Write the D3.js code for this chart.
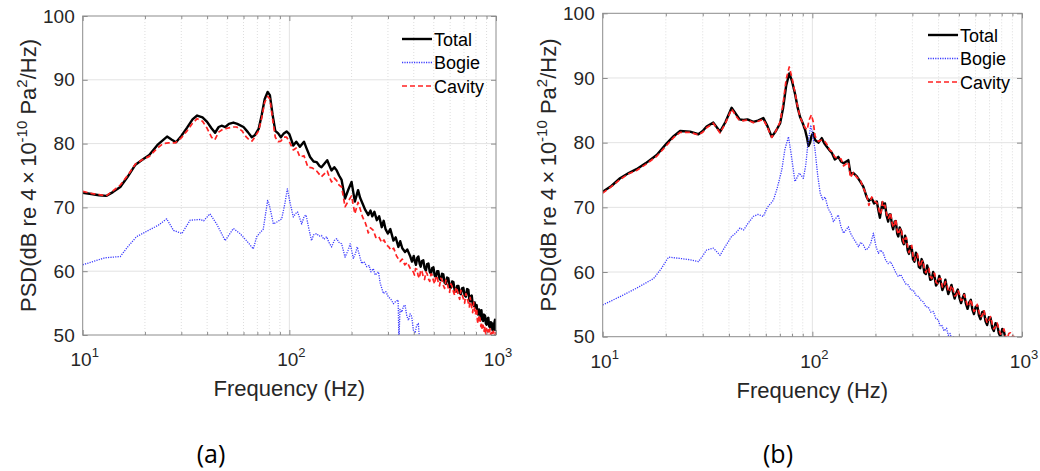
<!DOCTYPE html>
<html lang="en">
<head>
<meta charset="UTF-8">
<title>PSD spectra</title>
<style>
    body { margin: 0; background: #fff; }
    svg { display: block; font-family: "Liberation Sans", Arial, sans-serif; }
    .frame { fill: none; stroke: #8c8c8c; stroke-width: 1; }
</style>
</head>
<body>
<svg id="chart" width="1040" height="471"></svg>
<script src="https://d3js.org/d3.v7.min.js"></script>
<script>
// ---- data: [frequency (Hz), PSD (dB)] ----
const totalA = [[10,72.3],[11,72.1],[12,71.9],[13,71.8],[14,72.4],[15.2,73.2],[16.5,74.8],[18,76.7],[19.5,77.5],[21,78.2],[23,79.8],[25.6,81.1],[27,80.6],[28.3,80.2],[30,81.2],[32,82.5],[34,83.8],[35.8,84.4],[38,84.1],[40,83.4],[42,82.4],[43.7,81.7],[45.5,82.6],[47,82.8],[49,82.6],[51,83.1],[53.6,83.3],[56,83.1],[60,82.6],[63,81.8],[65.8,81.0],[68,81.3],[71,82.3],[73.5,84.5],[76,87.0],[78.5,88.1],[80.5,87.6],[83,84.5],[85.5,82.0],[88.3,81.6],[91,81.0],[94,81.6],[97,81.9],[100,81.5],[104.5,79.7],[108,80.3],[112.5,79.5],[117.7,80.3],[121,79.3],[126,77.9],[131,77.2],[135.5,77.1],[140,76.5],[143,76.3],[152.5,77.4],[156,76.6],[160,75.8],[165,76.3],[169.5,75.8],[174,75.0],[179,74.3],[186,71.4],[193,72.8],[200,74.0],[207.5,70.9],[215,72.7],[220,71.5],[226,70.6],[233,69.6],[241,68.8],[247,69.5],[252,68.6],[258,69.3],[265,68.0],[272,68.6],[280,66.9],[286,67.9],[292,66.6],[300,65.9],[308,66.6],[319,64.8],[327,65.3],[337,63.8],[344,64.7],[352,63.6],[363,63.0],[372,63.4],[384,62.4],[392,61.5],[400,62.4],[405,61.5],[410,61.0],[416,62.1],[421,62.3],[427,61.2],[432,60.7],[438,61.6],[445,61.7],[451,60.5],[458,60.1],[464,61.1],[471,61.2],[478,59.9],[485,59.6],[491,60.5],[498,60.6],[505,59.3],[512,59.1],[519,60.0],[526,60.0],[533,58.8],[541,58.6],[548,59.6],[556,59.5],[564,58.2],[572,58.0],[580,59.0],[588,58.9],[596,57.6],[605,57.4],[613,58.4],[622,58.3],[631,57.0],[640,56.8],[649,57.7],[658,57.7],[667,56.6],[676,56.4],[685,57.3],[695,57.4],[705,56.2],[715,56.0],[725,57.2],[735,57.1],[743,55.5],[750,55.3],[757,56.1],[763,56.2],[771,54.9],[780,54.6],[788,55.1],[795,54.3],[806,54.7],[813,53.4],[820,53.2],[828,54.0],[837,53.5],[845,52.5],[850,53.9],[858,52.4],[866,52.2],[875,53.2],[885,53.0],[893,51.8],[900,51.6],[909,52.6],[918,52.7],[927,51.4],[935,51.2],[944,52.0],[953,51.9],[961,50.8],[970,50.7],[980,51.8],[989,52.4],[995,50.8],[1000,51.2]];

const cavityA = [[10,72.5],[11,72.2],[12,72.0],[13,71.8],[14,72.6],[15.2,73.5],[16.5,75.0],[18,76.8],[19.5,77.5],[21,78.0],[23,79.3],[24.5,80.0],[26,80.1],[28,80.1],[30,80.9],[32,82.0],[34,83.2],[35.8,83.9],[38,83.5],[40,82.4],[42,81.0],[43.6,80.6],[45.5,81.8],[47.9,82.3],[50,82.4],[53,82.6],[55.6,82.6],[59,82.0],[62,81.0],[64.4,80.5],[66,80.4],[68,81.0],[71,82.0],[73.5,84.0],[76,86.5],[78.5,87.4],[80.5,87.0],[83,83.8],[85.5,81.0],[88.3,80.3],[91,80.4],[94,81.0],[97,81.0],[100,80.3],[104.5,79.0],[108,79.3],[112.5,77.9],[117.7,78.1],[123,76.3],[129,76.2],[135.5,75.7],[143,74.8],[152.5,75.7],[156,74.8],[160,74.0],[165,74.6],[169.5,74.2],[174,73.5],[179,73.2],[186,70.1],[193,71.0],[200,71.8],[207.5,69.0],[215,70.8],[220,69.8],[226,68.5],[233,67.6],[237,66.9],[241,66.0],[247,66.8],[255,66.4],[262,65.3],[270,65.5],[280,64.5],[287,64.9],[295,64.1],[303,63.8],[310,63.3],[320,63.6],[330,62.4],[343,61.5],[352,61.9],[362,61.0],[372,61.4],[385,60.4],[398,59.9],[403,59.4],[408,60.4],[414,60.3],[420,59.3],[426,58.9],[432,60.2],[438,60.0],[445,59.1],[451,58.7],[458,59.9],[464,59.6],[471,58.8],[478,58.4],[485,59.6],[491,59.4],[498,58.5],[505,58.0],[512,59.3],[519,59.0],[526,58.2],[533,57.7],[541,58.9],[548,58.6],[556,57.8],[564,57.3],[572,58.6],[580,58.2],[588,57.3],[596,56.7],[605,58.0],[613,57.6],[622,56.8],[631,56.2],[640,57.5],[649,57.0],[658,56.2],[667,55.6],[676,57.0],[685,56.4],[695,55.7],[705,55.0],[715,56.5],[725,55.8],[735,55.0],[743,54.4],[750,55.9],[757,55.0],[763,54.3],[771,53.5],[780,55.1],[788,54.0],[795,53.2],[806,54.2],[813,52.2],[820,51.8],[828,53.1],[837,52.6],[845,51.3],[850,52.0],[858,50.8],[866,51.5],[875,50.6],[885,51.4],[893,49.6],[900,51.0],[909,50.2],[918,50.8],[927,49.6],[935,51.0],[944,50.0],[953,50.4],[961,49.4],[970,50.6],[980,49.8],[989,50.0],[1000,50.8]];

const bogieA = [[10,61.0],[12.8,62.1],[15.2,62.3],[16.5,63.8],[18.2,65.4],[20.8,66.4],[23.2,67.2],[25.5,68.2],[27.5,66.4],[30.2,65.9],[33.1,68.0],[37,68.1],[38.5,67.9],[41.3,69.0],[44.5,67.4],[48.9,64.8],[53.6,66.7],[57.7,65.9],[62,64.8],[66.9,63.5],[69.5,65.4],[72,66.0],[74.8,66.6],[78.5,71.1],[80.5,70.0],[83.7,67.4],[88,67.8],[91.8,68.2],[95,70.5],[97.8,72.9],[101,70.6],[104.5,68.5],[107,69.0],[109.6,69.3],[114.7,67.4],[118,68.6],[120.5,68.8],[124,66.8],[128,64.8],[131,65.7],[135.5,65.9],[139,65.5],[143,65.6],[147,65.0],[151.5,65.4],[155,64.6],[160,63.8],[165,64.8],[169.5,65.1],[174,64.5],[179,64.3],[186,62.2],[192,63.2],[197,64.3],[204,62.0],[209,62.8],[213,63.8],[224,61.2],[230,61.5],[237,60.7],[243,60.9],[248,59.9],[255,60.4],[260,59.4],[270,59.9],[275,58.2],[285,56.5],[293,56.8],[301,56.0],[310,55.6],[319,54.9],[328,55.3],[336,55.5],[339,49.0],[343,54.0],[350,53.6],[357,54.5],[363,54.7],[370,53.0],[377,52.3],[384,53.3],[391,52.9],[398,50.8],[406,50.3],[413,51.5],[421,51.8],[426,49.5],[429,49.0]];

const totalB = [[10,72.4],[11,73.3],[12.1,74.5],[13.3,75.3],[14.5,75.9],[16,76.8],[18.1,78.1],[20.2,79.9],[21.8,81.0],[23.4,81.8],[26.1,81.7],[28.6,81.3],[30,81.8],[31.3,82.5],[33.7,83.1],[36.3,81.7],[38.5,83.2],[41.2,85.4],[43.5,84.3],[45,83.6],[46.9,83.5],[49,83.6],[52.3,83.2],[55,83.4],[58.4,83.8],[61,82.6],[64,80.9],[67,81.8],[70.2,83.0],[72.5,85.3],[75,88.8],[77.6,90.7],[80,89.5],[82.6,87.6],[85,85.5],[87.3,84.0],[90,83.0],[92.3,82.0],[94.5,80.6],[95.8,79.5],[97.5,80.0],[99,81.0],[101,81.5],[103,80.4],[106.9,80.0],[110.9,80.7],[114,79.9],[117,79.4],[121,78.8],[124,78.4],[128,77.4],[133,77.8],[137,77.1],[141,76.8],[148.5,77.3],[152,75.2],[157,75.3],[163,74.8],[169,74.0],[175,73.2],[181.5,71.6],[186,71.0],[192,71.4],[197,70.6],[203,70.9],[207,69.4],[210,68.4],[213,69.6],[216,70.8],[219,69.9],[222,70.6],[226,68.7],[230,67.8],[233,68.9],[236,68.9],[240,67.2],[243,66.6],[247,67.8],[250,67.9],[254,65.9],[257,65.5],[261,66.9],[265,66.4],[269,64.8],[273,64.3],[277,65.6],[281,64.9],[285,63.3],[289,62.8],[293,64.0],[298,63.7],[302,62.0],[307,61.6],[312,63.0],[317,62.4],[322,60.8],[327,60.6],[332,62.0],[337,61.4],[342,59.9],[348,59.7],[353,61.0],[359,60.1],[365,58.8],[371,58.9],[377,60.0],[383,59.2],[389,57.9],[396,58.3],[403,59.4],[410,58.4],[417,57.2],[424,57.8],[431,58.8],[438,57.6],[445,56.6],[453,57.3],[461,58.0],[469,56.8],[477,55.9],[485,56.7],[494,57.3],[503,56.0],[512,55.2],[521,56.0],[530,56.6],[540,55.1],[550,54.3],[560,55.3],[570,55.7],[580,54.2],[590,53.5],[601,54.6],[612,54.8],[623,53.3],[634,52.7],[646,53.8],[658,53.9],[670,52.4],[682,51.8],[695,53.0],[708,52.9],[721,51.4],[734,50.9],[748,52.1],[762,51.8],[776,50.5],[790,50.0],[805,51.2],[820,50.8],[835,49.6],[850,49.3]];

const cavityB = [[10,72.2],[11,73.2],[12.1,74.3],[13.3,75.2],[14.5,75.7],[16,76.6],[18.1,77.9],[20.2,79.6],[21.8,80.8],[23.4,81.6],[26.1,81.6],[28.6,81.2],[30,81.6],[31.3,82.3],[33.7,83.0],[36.3,81.5],[38.5,83.0],[41.2,85.2],[43.5,84.0],[45,83.4],[46.9,83.4],[49,83.5],[52.3,83.1],[55,83.3],[58.4,83.6],[61,82.4],[64,80.8],[67,81.8],[70.2,83.2],[72.5,86.0],[75,89.8],[77.6,91.7],[80,90.0],[82.6,87.8],[85,85.6],[87.3,84.0],[90,83.0],[92.3,82.3],[94.5,82.0],[96.5,83.5],[99,84.3],[101,83.2],[103,81.0],[106.9,80.2],[110.9,80.4],[114,80.3],[117,79.8],[121,78.9],[124,78.6],[128,77.8],[133,77.5],[137,77.5],[141,76.4],[148.5,77.0],[152,74.6],[157,75.4],[163,74.6],[169,74.3],[175,73.0],[181.5,71.9],[186,70.3],[192,71.6],[197,71.0],[203,70.7],[207,69.9],[210,68.9],[213,69.3],[216,70.9],[219,70.3],[222,70.3],[226,69.0],[230,68.2],[233,68.6],[236,69.2],[240,67.6],[243,66.9],[247,67.5],[250,68.2],[254,66.4],[257,65.8],[261,66.5],[265,66.8],[269,65.3],[273,64.5],[277,65.2],[281,65.3],[285,63.8],[289,63.0],[293,63.7],[298,64.1],[302,62.5],[307,61.8],[312,62.7],[317,62.8],[322,61.3],[327,60.8],[332,61.6],[337,61.8],[342,60.4],[348,59.9],[353,60.6],[359,60.6],[365,59.3],[371,59.0],[377,59.7],[383,59.8],[389,58.4],[396,58.2],[403,59.0],[410,59.0],[417,57.7],[424,57.6],[431,58.5],[438,58.2],[445,57.0],[453,57.0],[461,57.9],[469,57.4],[477,56.3],[485,56.4],[494,57.2],[503,56.6],[512,55.6],[521,55.7],[530,56.5],[540,55.7],[550,54.7],[560,54.9],[570,55.8],[580,54.8],[590,53.9],[601,54.2],[612,55.0],[623,53.9],[634,53.0],[646,53.3],[658,54.1],[670,53.0],[682,52.1],[695,52.5],[708,53.1],[721,52.0],[734,51.2],[748,51.6],[762,52.1],[776,51.1],[790,50.4],[805,50.7],[820,51.2],[835,50.1],[850,49.6],[865,50.5],[880,50.6],[895,49.8],[910,50.4],[925,49.6]];

const bogieB = [[10,54.9],[12.1,56.2],[14.5,57.5],[17.5,59.0],[19,60.5],[20.6,62.3],[23.4,62.1],[26,61.9],[28.6,61.6],[30,62.5],[31.3,63.4],[33.7,63.7],[36.3,62.6],[38.5,64.0],[41.2,65.5],[43,66.0],[45.2,66.8],[47,66.5],[49,67.4],[52.3,68.6],[55,68.9],[58.4,68.6],[61,70.0],[65.2,71.1],[68,73.0],[71.5,75.8],[74,79.0],[76.9,80.9],[79,78.5],[82.6,74.0],[84.5,74.6],[86.7,75.3],[90.6,74.5],[93,76.5],[95,79.5],[98.2,82.7],[100,81.5],[103,78.9],[106,75.0],[109,72.2],[112,71.2],[115,71.6],[119,69.8],[123,69.0],[126,67.8],[133,68.8],[137,67.0],[141,66.0],[148.5,67.0],[152,66.0],[157,65.2],[162,64.5],[166,63.9],[170,64.6],[175,64.2],[180,63.4],[185,63.7],[190,64.5],[195.5,66.0],[201,64.0],[206.5,62.9],[212,63.4],[218,62.9],[224,61.8],[230,61.3],[236,61.6],[243,60.8],[250,59.9],[257,59.3],[264,59.6],[272,58.8],[280,58.1],[287,58.0],[295,57.2],[303,57.2],[312,56.4],[321,56.2],[330,55.6],[338,55.4],[348,54.6],[357,54.6],[367,53.8],[378,53.9],[388,52.8],[399,52.6],[406,51.7],[414,51.8],[425,50.9],[437,51.3],[445,50.2],[454,50.5],[462,49.6],[471,50.0],[478,49.0]];

const seriesNames = ["Total", "Bogie", "Cavity"];
const yTicks = [50, 60, 70, 80, 90, 100];
const xDecades = [10, 100, 1000];
const panelLabels = ["(a)", "(b)"];

// ---- drawing ----
const svg = d3.select("#chart");

const styles = {
    Total:  { color: "#000000", width: 2.4, dash: null },
    Bogie:  { color: "#3b3bff", width: 1.3, dash: "1.2,1.2" },
    Cavity: { color: "#ff2222", width: 1.7, dash: "5,3" }
};

const panels = [
    { left: 82.7, right: 496, top: 16, bottom: 335, legX: 402, legY: 39, data: [totalA, bogieA, cavityA], label: panelLabels[0], labX: 211, id: "a" },
    { left: 602.7, right: 1022, top: 13.3, bottom: 336.7, legX: 928, legY: 35, data: [totalB, bogieB, cavityB], label: panelLabels[1], labX: 778, id: "b" }
];

panels.forEach(p => {
    const x = d3.scaleLog().domain([10, 1000]).range([p.left, p.right]);
    const y = d3.scaleLinear().domain([50, 100]).range([p.bottom, p.top]);
    const g = svg.append("g");

    svg.append("clipPath").attr("id", "clip-" + p.id)
        .append("rect")
        .attr("x", p.left).attr("y", p.top)
        .attr("width", p.right - p.left).attr("height", p.bottom - p.top);

    // minor x values
    const minors = [];
    [10, 100].forEach(d => { for (let k = 2; k <= 9; k++) minors.push(d * k); });

    // grid
    g.selectAll(".xminor").data(minors).enter().append("line")
        .attr("x1", d => x(d)).attr("x2", d => x(d))
        .attr("y1", p.top).attr("y2", p.bottom)
        .attr("stroke", "#d4d4d4").attr("stroke-width", 0.8)
        .attr("stroke-dasharray", "1,2");
    g.selectAll(".xmajor").data([100]).enter().append("line")
        .attr("x1", d => x(d)).attr("x2", d => x(d))
        .attr("y1", p.top).attr("y2", p.bottom)
        .attr("stroke", "#e3e3e3").attr("stroke-width", 1);
    g.selectAll(".ygrid").data(yTicks.slice(1, -1)).enter().append("line")
        .attr("x1", p.left).attr("x2", p.right)
        .attr("y1", d => y(d)).attr("y2", d => y(d))
        .attr("stroke", "#e3e3e3").attr("stroke-width", 1);

    // curves: total, bogie, cavity (cavity ends up on top)
    const line = d3.line().x(d => x(d[0])).y(d => y(d[1]));
    [0, 1, 2].forEach(i => {
        const s = styles[seriesNames[i]];
        g.append("path")
            .datum(p.data[i])
            .attr("clip-path", "url(#clip-" + p.id + ")")
            .attr("d", line)
            .attr("fill", "none")
            .attr("stroke", s.color)
            .attr("stroke-width", s.width)
            .attr("stroke-linejoin", "round")
            .attr("stroke-dasharray", s.dash);
    });

    // axes (ticks inside, box on)
    [p.bottom, p.top].forEach((yy, k) => {
        const mk = k === 0 ? d3.axisBottom : d3.axisTop;
        const a = g.append("g").attr("transform", `translate(0,${yy})`)
            .call(mk(x).tickValues(xDecades).tickSize(-5).tickFormat(""));
        a.select(".domain").remove();
        a.selectAll("line").attr("stroke", "#8c8c8c");
        const m = g.append("g").attr("transform", `translate(0,${yy})`)
            .call(mk(x).tickValues(minors).tickSize(-3).tickFormat(""));
        m.select(".domain").remove();
        m.selectAll("line").attr("stroke", "#8c8c8c");
    });

    const ya = g.append("g").attr("transform", `translate(${p.left},0)`)
        .call(d3.axisLeft(y).tickValues(yTicks).tickSize(-5).tickPadding(8));
    ya.select(".domain").remove();
    ya.selectAll("line").attr("stroke", "#8c8c8c");
    ya.selectAll("text").style("font-size", "19px").style("font-family", "inherit").attr("fill", "#262626");
    const yr = g.append("g").attr("transform", `translate(${p.right},0)`)
        .call(d3.axisRight(y).tickValues(yTicks).tickSize(-5).tickFormat(""));
    yr.select(".domain").remove();
    yr.selectAll("line").attr("stroke", "#8c8c8c");

    // x tick labels 10^n
    const xl = g.selectAll(".xlab").data(xDecades).enter().append("text")
        .attr("x", d => x(d) + 2).attr("y", p.bottom + 31)
        .attr("text-anchor", "middle")
        .attr("fill", "#262626")
        .style("font-size", "19px");
    xl.append("tspan").text("10");
    xl.append("tspan").attr("dy", -9).style("font-size", "13px")
        .text(d => String(Math.round(Math.log10(d))));

    // frame
    g.append("rect").attr("class", "frame")
        .attr("x", p.left).attr("y", p.top)
        .attr("width", p.right - p.left).attr("height", p.bottom - p.top);

    // axis labels
    g.append("text")
        .attr("x", (p.left + p.right) / 2).attr("y", p.bottom + 61)
        .attr("text-anchor", "middle").attr("fill", "#262626")
        .style("font-size", "22px")
        .text("Frequency (Hz)");

    const yl = g.append("text")
        .attr("transform", `translate(${p.left - 47},${(p.top + p.bottom) / 2}) rotate(-90)`)
        .attr("text-anchor", "middle").attr("fill", "#262626")
        .style("font-size", "22px");
    yl.append("tspan").text("PSD(dB re 4\u2009\u00d7\u200910");
    yl.append("tspan").attr("dy", -9).style("font-size", "15px").text("-10");
    yl.append("tspan").attr("dy", 9).text(" Pa");
    yl.append("tspan").attr("dy", -9).style("font-size", "15px").text("2");
    yl.append("tspan").attr("dy", 9).text("/Hz)");

    // legend
    seriesNames.forEach((name, i) => {
        const s = styles[name];
        const ly = p.legY + i * 23.5;
        g.append("line")
            .attr("x1", p.legX).attr("x2", p.legX + 30)
            .attr("y1", ly).attr("y2", ly)
            .attr("stroke", s.color).attr("stroke-width", s.width)
            .attr("stroke-dasharray", s.dash);
        g.append("text")
            .attr("x", p.legX + 32).attr("y", ly + 6.5)
            .attr("fill", "#000").style("font-size", "18px")
            .text(name);
    });

    // panel label
    svg.append("text")
        .attr("x", p.labX).attr("y", 463)
        .attr("text-anchor", "middle")
        .style("font-family", "'Open Sans', sans-serif")
        .style("font-size", "25px").attr("fill", "#000")
        .text(p.label);
});
</script>
</body>
</html>
